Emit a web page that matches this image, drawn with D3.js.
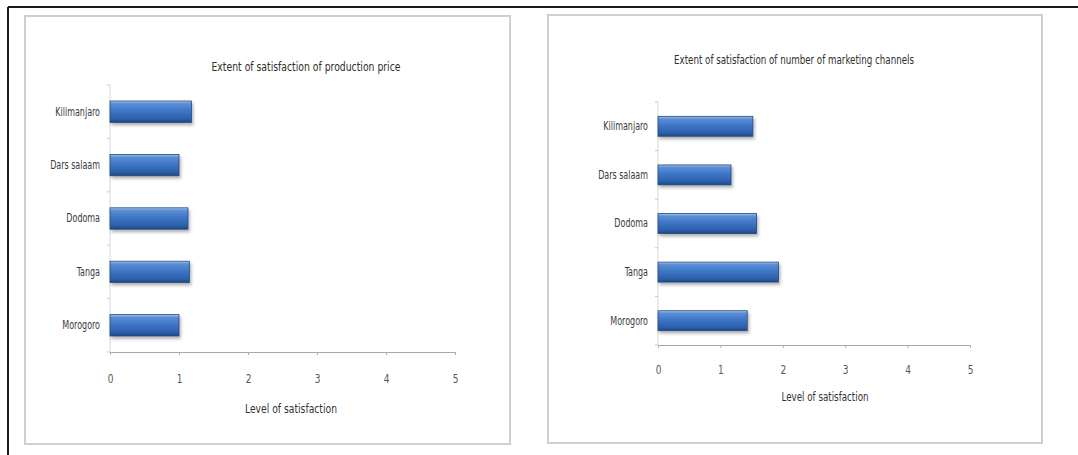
<!DOCTYPE html>
<html>
<head>
<meta charset="utf-8">
<script src="https://cdn.jsdelivr.net/npm/d3@7"></script>
<style>
  html, body { margin: 0; padding: 0; background: #fff; }
  svg { display: block; }
  text { font-family: "Liberation Sans Narrow", "DejaVu Sans Condensed", "Arial Narrow", sans-serif; fill: #444; }
</style>
</head>
<body>
<svg id="chart" width="1078" height="455"></svg>
<script>
// ---- data ----
const categories = ["Kilimanjaro", "Dars salaam", "Dodoma", "Tanga", "Morogoro"];
const channelCategories = ["Kilimanjaro", "Dars salaam", "Dodoma", "Tanga", "Morogoro"];
const priceValues = [1.18, 1.0, 1.13, 1.15, 1.0];
const channelValues = [1.52, 1.17, 1.58, 1.93, 1.43];
const xTicks = [0, 1, 2, 3, 4, 5];
const titles = ["Extent of satisfaction of production price", "Extent of satisfaction of number of marketing  channels"];
const xTitle = "Level of satisfaction";

const svg = d3.select("#chart");

// gradient for bars
const defs = svg.append("defs");
const grad = defs.append("linearGradient").attr("id", "barGrad")
  .attr("x1", 0).attr("y1", 0).attr("x2", 0).attr("y2", 1);
[[0, "#a9c8ef"], [0.12, "#5b8fd6"], [0.45, "#3f76c7"], [0.85, "#2b5ea8"], [1, "#1d467f"]]
  .forEach(([o, c]) => grad.append("stop").attr("offset", o).attr("stop-color", c));
const shadow = defs.append("filter").attr("id", "shadow").attr("x", "-10%").attr("y", "-20%").attr("width", "130%").attr("height", "170%");
shadow.append("feDropShadow").attr("dx", 1.5).attr("dy", 2.5).attr("stdDeviation", 1.5).attr("flood-color", "#000").attr("flood-opacity", 0.3);

// outer frame (top and left black lines)
svg.append("line").attr("x1", 8).attr("x2", 1078).attr("y1", 7).attr("y2", 7).attr("stroke", "#1a1a1a").attr("stroke-width", 2);
svg.append("line").attr("x1", 8).attr("x2", 8).attr("y1", 7).attr("y2", 455).attr("stroke", "#1a1a1a").attr("stroke-width", 2);

const charts = [
  { cats: categories, values: priceValues, title: titles[0],
    panel: [25, 16, 485, 428], x0: 110, x1: 455, yTop: 85, yBot: 352, pad: 0.6,
    titleX: 306, titleY: 71, titleW: 189, tickY: 383, axTitleX: 291, axTitleY: 413, axTitleW: 92, labelX: 100 },
  { cats: channelCategories, values: channelValues, title: titles[1],
    panel: [548, 15, 494, 428], x0: 658, x1: 970, yTop: 102, yBot: 345, pad: 0.59,
    titleX: 794, titleY: 64, titleW: 240, tickY: 374, axTitleX: 825, axTitleY: 401, axTitleW: 87, labelX: 648 }
];

charts.forEach(c => {
  const g = svg.append("g");
  // panel border
  g.append("rect").attr("x", c.panel[0]).attr("y", c.panel[1]).attr("width", c.panel[2]).attr("height", c.panel[3])
    .attr("fill", "#fff").attr("stroke", "#cfcfcf").attr("stroke-width", 2);

  const x = d3.scaleLinear().domain([xTicks[0], xTicks[xTicks.length - 1]]).range([c.x0, c.x1]);
  const y = d3.scaleBand().domain(c.cats).range([c.yTop, c.yBot]).paddingInner(c.pad).paddingOuter(c.pad / 2);

  // title
  g.append("text").attr("x", c.titleX).attr("y", c.titleY).attr("text-anchor", "middle")
    .attr("font-size", 11.5).attr("textLength", c.titleW).attr("lengthAdjust", "spacingAndGlyphs")
    .style("fill", "#2e2e2e").text(c.title);

  // y axis line with boundary ticks
  const step = y.step();
  g.append("line").attr("x1", c.x0).attr("x2", c.x0).attr("y1", c.yTop).attr("y2", c.yBot)
    .attr("stroke", "#d8d8d8").attr("stroke-width", 1);
  const bounds = c.cats.map(d => y(d) - step * c.pad / 2).concat([c.yBot]);
  g.selectAll(".ybt").data(bounds).join("line")
    .attr("x1", c.x0 - 3).attr("x2", c.x0).attr("y1", d => d).attr("y2", d => d)
    .attr("stroke", "#c8c8c8");

  // x axis
  const xAxis = d3.axisBottom(x).tickValues(xTicks).tickSize(3).tickSizeOuter(0).tickFormat(d3.format("d"));
  const ax = g.append("g").attr("transform", `translate(0,${c.yBot})`).call(xAxis);
  ax.select(".domain").attr("stroke", "#a8a8a8").attr("stroke-width", 1.2);
  ax.selectAll(".tick line").attr("stroke", "#b0b0b0");
  ax.selectAll(".tick text").attr("y", null).attr("dy", null)
    .attr("transform", `translate(0,${c.tickY - c.yBot}) scale(0.8,1)`)
    .attr("font-size", 12.5).style("fill", "#555")
    .style("font-family", "'Liberation Sans Narrow','DejaVu Sans Condensed',sans-serif");

  // category labels
  const yAxis = d3.axisLeft(y).tickSize(0).tickPadding(0);
  const ya = g.append("g").attr("transform", `translate(${c.labelX},0)`).call(yAxis);
  ya.select(".domain").remove();
  ya.selectAll(".tick text").attr("font-size", 12).style("fill", "#3a3a3a")
    .attr("transform", "scale(0.74,1)")
    .style("font-family", "'Liberation Sans Narrow','DejaVu Sans Condensed',sans-serif");

  // bars
  g.selectAll(".bar").data(c.cats.map((d, i) => ({ cat: d, v: c.values[i] }))).join("rect")
    .attr("x", x(0)).attr("y", d => y(d.cat))
    .attr("width", d => x(d.v) - x(0)).attr("height", y.bandwidth())
    .attr("fill", "url(#barGrad)").attr("stroke", "#23487e").attr("stroke-width", 0.8)
    .attr("filter", "url(#shadow)");

  // x axis title
  g.append("text").attr("x", c.axTitleX).attr("y", c.axTitleY).attr("text-anchor", "middle")
    .attr("font-size", 12.5).attr("textLength", c.axTitleW).attr("lengthAdjust", "spacingAndGlyphs")
    .style("fill", "#333").text(xTitle);
});
</script>
</body>
</html>
